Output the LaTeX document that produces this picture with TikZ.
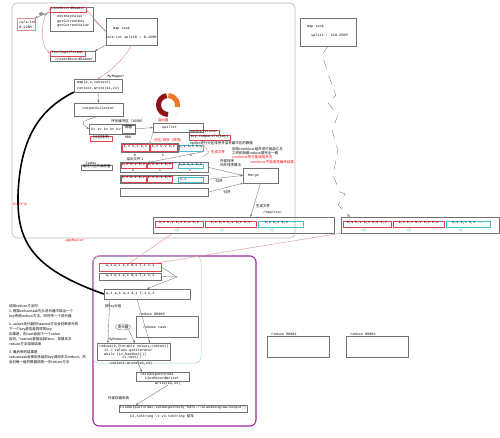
\documentclass[tikz,border=0pt]{standalone}
\usepackage{fontspec}
\setmainfont{Liberation Mono}
\newfontfamily\cjk{Noto Sans CJK SC}
\usetikzlibrary{fit,arrows.meta,shapes.geometric,calc}
\definecolor{ringred}{RGB}{140,20,20}
\definecolor{ringor}{RGB}{240,120,40}
\definecolor{boxred}{RGB}{220,70,80}
\definecolor{boxcyan}{RGB}{70,190,210}
\definecolor{mag}{RGB}{160,40,160}
\definecolor{grn}{RGB}{160,215,180}
\definecolor{pinkl}{RGB}{225,140,150}
\definecolor{frame}{RGB}{195,180,185}
\newcommand\myt{\fontsize{3.5}{4}\selectfont}
\newcommand\myz{\cjk\fontsize{3.5}{4}\selectfont}
\begin{document}
\begin{tikzpicture}[x=1pt,y=-1pt,
 gb/.style={draw=black!55, line width=0.35pt, fit={#1}, inner sep=0pt, font=\myt},
 rb/.style={draw=boxred, line width=0.45pt, fit={#1}, inner sep=0pt, font=\myt},
 cb/.style={draw=boxcyan, line width=0.45pt, fit={#1}, inner sep=0pt, font=\myt},
 tx/.style={font=\myt, inner sep=0pt},
 zx/.style={font=\myz, inner sep=0pt},
 mln/.style={draw=black!55, line width=0.35pt},
 marr/.style={mln, -{Stealth[length=2.5pt,width=2pt]}},
 rln/.style={draw=pinkl, line width=0.4pt},
 rarr/.style={rln, -{Stealth[length=2.5pt,width=2pt]}},
 lab/.style={font=\cjk\fontsize{3}{3.5}\selectfont, inner sep=0pt, text=boxcyan},
]
\useasboundingbox (0,0) rectangle (500,438);
\fill[white] (0,0) rectangle (500,438);

% ---------- map side frame ----------
\node[fit={(12,3) (295,238)}, draw=frame, line width=0.6pt, rounded corners=5pt, inner sep=0pt] (mapside) {};

% ---------- input ----------
\node[rb={(17,18) (35,30)}, draw=pinkl] (atxt) {};
\node[tx, anchor=west] (atxt1) at (19,22) {/a/a.txt};
\node[tx, anchor=west] (atxt2) at (19,27) {0-128M};
\node[zx] (rdkv) at (43,14) {读k,v};
\node[gb={(50,7) (93,31)}] (lrr) {};
\node[rb={(50,7) (86,12)}] (lrrh) {LineRecordReader};
\node[tx, anchor=west] (lrr1) at (57,17) {nextKeyValue};
\node[tx, anchor=west] (lrr2) at (57,21.5) {getCurrentKey};
\node[tx, anchor=west] (lrr3) at (57,26) {getCurrentValue};
\node[gb={(50,51) (95,61)}] (tif) {};
\node[rb={(50,51) (85,56)}] (tifh) {TextInputFormat};
\node[tx, anchor=west] (tif1) at (55,59) {createRecordReader};
\node[gb={(106,18) (157,45)}] (maptask) {};
\node[tx, anchor=west] (mt1) at (113,29) {map task};
\node[tx] (mt2) at (131,38) {/a/a.txt split0 : 0-128M};

\node[gb={(74,79) (122,92)}] (mymapper) {};
\node[tx, anchor=west] (mm1) at (77,83) {map(k,v,context)};
\node[tx, anchor=west] (mm2) at (77,88.5) {context.write(k1,v1)};
\node[tx] (mmlab) at (116,76.5) {MyMapper};
\node[gb={(74,103) (123,116)}] (oc) {outputCollector};

\draw[marr] (lrrh.south west) -- (atxt.north east);
\draw[rarr] (maptask.west) -- (lrrh.east);
\draw[mln] (lrr.east) -- (maptask.west);
\draw[marr] (maptask.south west) -- (tif.north east);
\draw[rarr] (lrrh.west) .. controls (40,18) and (40,45) .. (tifh.west);
\draw[rarr] (maptask.south) .. controls (125,58) and (112,70) .. (mymapper.north);
\draw[marr] (mymapper.south) -- (oc.north);

% ---------- ring buffer ----------
\node[circle, minimum size=24pt, inner sep=0pt, draw=black!15, line width=0.2pt] (ring) at (168,105) {};
\draw[line width=5pt, draw=ringred] (ring.center) ++(90:9.5) arc[start angle=90, end angle=262, radius=9.5];
\draw[line width=5pt, draw=ringor] (ring.center) ++(272:9.5) arc[start angle=272, end angle=372, radius=9.5];
\node[zx] (rbuf) at (128,121) {环形缓冲区（100M）};
\node[gb={(89,124) (135,134)}] (kvbuf) {};
\node[tx, anchor=west] (kvt) at (91,129) {kv kv kv kv kv};
\node[gb={(122,125) (135,133)}, font=\myz] (thr) {阈值};
\node[tx] (p80) at (128,137) {80\%};
\node[rb={(90,136) (112,141)}, font=\myz] (fq) {(分区排序)};
\draw[marr] (oc.south) .. controls (80,122) .. (kvbuf.west);

\node[zx, text=red] (yichu) at (163,120) {溢出器};
\node[gb={(153,123) (203,132)}] (spiller) {};
\node[tx, anchor=west] (spt) at (162,127.5) {spiller};
\draw[marr] (kvbuf.east) -- (spiller.west);
\node[rb={(189,130.5) (219,135.5)}, font=\fontsize{3}{3.5}\selectfont] (hp) {HashPartitioner};
\node[rb={(189,135.5) (230,140.5)}] (kc) {key.compareTo(key)};
\node[zx, anchor=west] (spnote) at (190,143) {spiller进行分区排序并溢写缓冲区的数据};
\node[zx, text=red, anchor=west] (pq) at (154,140) {分区/排序（快排）};

% ---------- spill files ----------
\node[gb={(121,143.5) (178,152.5)}] (r1) {};
\node[rb={(122,144.5) (149,151.5)}] (r1a) {k,v k,v k,v};
\node[rb={(150,144.5) (177,151.5)}] (r1b) {k,v k,v k,v};
\node[cb={(179,145) (203,151.5)}] (r1c) {k,v k,v k,v};
\node[tx] (r1l0) at (135,155.5) {0};
\node[tx] (r1l1) at (163,155.5) {1};
\node[tx] (r1l2) at (191,155.5) {2};
\draw[rarr] (spiller.south west) -- (r1b.north west);
\draw[rln] (r1c.north east) -- (209,152) -- (203,157);
\node[zx, text=red, anchor=west] (gen1) at (211,152) {生成文件};
\draw[marr] (r1c.south east) -- (148,162.5);
\node[zx] (yc1) at (135,159.5) {溢出文件 1};

\node[tx] (idxl) at (91,163) {Index};
\node[gb={(81,165) (112,170)}, font=\myz] (idx) {描述分区的偏移量};

\node[gb={(120,162.5) (208,172)}] (r2) {};
\node[rb={(121,163.5) (146,168.5)}] (r2a) {k,v k,v k,v};
\node[rb={(147,163.5) (172,168.5)}] (r2b) {k,v k,v k,v};
\node[cb={(178,164) (203,168.5)}] (r2c) {k,v k,v k,v};
\node[tx, font=\fontsize{3}{3}\selectfont] (r2l0) at (133,170.4) {0};
\node[tx, font=\fontsize{3}{3}\selectfont] (r2l1) at (160,170.4) {1};
\node[tx, font=\fontsize{3}{3}\selectfont] (r2l2) at (190,170.4) {2};

\node[gb={(120,175) (208,183.5)}] (r3) {};
\node[rb={(121,176) (146,182.5)}] (r3a) {k,v k,v k,v};
\node[rb={(147,176) (172,182.5)}] (r3b) {k,v k,v k,v};
\node[cb={(178,177) (203,182.5)}] (r3c) {};
\node[tx, anchor=west] (r3ct) at (180,179.75) {k,v};

\node[gb={(120,188) (208,196.5)}] (r4) {};

\node[gb={(243,168) (278,183)}] (merge) {};
\node[tx, anchor=west] (mergt) at (248,175.5) {Merge};
\draw[marr] (r2.east) -- (merge.west);
\draw[marr] (r3.east) -- (merge.west);
\draw[marr] (r4.east) -- (merge.south west);
\node[zx] (gb1) at (219,181.5) {归并};
\node[zx] (gb2) at (227,192.5) {归并};
\node[zx, anchor=west] (ext1) at (220,161) {外部排序};
\node[zx, anchor=west] (ext2) at (220,165.5) {归并排序算法};

\node[zx, anchor=west] (comb1) at (232,149) {调用combiner组件进行局部汇总};
\node[zx, anchor=west] (comb2) at (232,153.5) {工作机制跟reduce端完全一致};
\node[zx, anchor=west, text=red] (comb3) at (232,157.5) {combiner有可能调用多次};
\node[zx, anchor=west, text=red] (comb4) at (250,162) {combiner不能改变最终结果};

% ---------- map output ----------
\node[gb={(153,217) (334,233)}] (out) {};
\node[rb={(155,221) (203,227.5)}] (o1) {k,v k,v k,v k,v k,v};
\node[rb={(205,221) (256,227.5)}] (o2) {k,v k,v k,v k,v k,v};
\node[cb={(258,221) (303,227.5)}] (o3) {k,v k,v k,v ...};
\node[lab] (ol0) at (177,230.8) {0区};
\node[lab] (ol1) at (222,230.8) {1区};
\node[lab] (ol2) at (272,230.8) {2区};
\draw[marr] (merge.south) -- ($(out.north)+(7,0)$);
\node[zx, anchor=west] (gen2) at (256,206) {生成文件};
\node[tx, anchor=west] (tmp) at (263,213) {/tmp/xxx/};

\node[gb={(300,18) (356,46)}] (maptask2) {};
\node[tx, anchor=west] (mt21) at (307,27) {map task};
\node[tx, anchor=west] (mt22) at (311,36) {split1 : 128-256M};

\node[gb={(341,217) (499.5,233)}] (rout) {};
\node[rb={(343,221) (391,227.5)}] (ro1) {k,v k,v k,v k,v k,v};
\node[rb={(393,221) (444,227.5)}] (ro2) {k,v k,v k,v k,v k,v};
\node[cb={(446,221) (490,227.5)}] (ro3) {k,v k,v k,v ...};
\node[lab] (rol0) at (364,230.8) {0区};
\node[lab] (rol1) at (409,230.8) {1区};
\node[lab] (rol2) at (461,230.8) {2区};

\draw[mln, dash pattern=on 9pt off 7pt, -{Stealth[length=2.5pt,width=2pt]}] (maptask2.south) -- (322,55) -- (332,85) -- (336,95) -- (328,103) -- (338,115) -- (332,130) -- (338,150) -- (333,175) -- (340,192) -- (345,194) -- (338,205) -- ($(rout.north west)+(9,0)$);

% ---------- reduce side ----------
\node[fit={(93,256) (256,426)}, draw=mag, line width=1.1pt, rounded corners=6pt, inner sep=0pt] (redside) {};
\node[fit={(93,256) (201,363)}, draw=grn, line width=0.5pt, rounded corners=5pt, inner sep=0pt] (grp) {};

\node[rb={(99,263) (161,271)}] (rr1) {a,1 a,1 a,1 d,1 f,1 v,1};
\node[gb={(99,273) (161,280)}] (rr2) {a,1 a,1 a,1 d,1 f,1 v,1};
\coordinate (mg) at (177,277);
\draw[mln] (rr1.east) -- (mg);
\draw[mln] (rr2.east) -- (mg);
\node[gb={(104,289) (190,299)}] (rr3) {};
\node[tx, anchor=west] (rr3t) at (106,294) {a,1 a,1 a,1 d,1 f,1 v,1};
\draw[marr] (mg) -- (rr3.north);

\draw[rln] ($(out.south west)+(20,0)$) -- (rr1.north);
\draw[rln] (rout.south west) -- ($(rr1.north east)+(-3,0)$);

\draw[line width=1.6pt, black] (mymapper.south west) .. controls (38,110) and (20,140) .. (18,195) .. controls (17,240) and (30,268) .. (rr3.west);
\node[tx, text=red] (shuf) at (20,204) {shuffle};
\node[tx, text=red] (appm) at (75,240.5) {appMaster};

\node[zx, anchor=west] (grpk) at (105,306) {按key分组};
\node[tx] (r0l) at (152,314) {reduce 00000};
\node[gb={(136,316) (198,337)}] (rtask) {};
\node[tx] (rtt) at (155,327) {reduce task};
\node[ellipse, draw=black!55, line width=0.35pt, minimum width=15pt, minimum height=6pt, inner sep=0pt, font=\myz] (itr) at (123,327) {迭代器};
\node[tx] (myrl) at (118,340) {MyReducer};
\node[gb={(97,343) (170,360)}] (rcode) {};
\node[tx, anchor=west] (rc1) at (99,346.5) {reduce(k,Iterable values,context)};
\node[tx, anchor=west] (rc2) at (104,350.5) {it = values.getIterator};
\node[tx, anchor=west] (rc3) at (104,354.5) {while (it.hasNext())};
\node[tx, anchor=west] (rc4) at (122,358) {it.next()};
\node[tx, anchor=west] (rc5) at (110,363.5) {context.write(k3,v3)};

\draw[marr] ($(rr3.south west)+(6,0)$) -- ($(rcode.north west)+(11,0)$);
\draw[marr] ($(rr3.south)+(-10,0)$) -- ($(rcode.north west)+(53,0)$);
\draw[marr] (itr.south east) -- ($(rcode.north west)+(38,0)$);

\node[gb={(136,372) (189,381)}] (tof) {};
\node[tx, anchor=west] (tof1) at (140,374.5) {TextOutputFormat};
\node[tx, anchor=west] (tof2) at (145,378.5) {LineRecordWriter};
\node[tx, anchor=west] (wr) at (155,383.5) {write(k3,v3)};
\draw[marr] ($(rcode.south west)+(40,0)$) -- ($(tof.north west)+(6,0)$);

\node[zx, anchor=west] (ext) at (108,398) {外部存储系统};
\node[gb={(119,405) (247,412)}] (outp) {FileOutputFormat.setOutputPath("hdfs://alandsong/aa/output")};
\draw[marr] (wr.south) -- ($(outp.north west)+(17,0)$);
\node[tx, anchor=west] (kstr) at (130,416.5) {k3.toString \textbackslash t v3.toString {\cjk 回车}};

\node[tx] (red1l) at (284,334) {reduce 00001};
\node[gb={(267,336) (329,357)}] (red1) {};
\node[tx] (red2l) at (363,334) {reduce 00002};
\node[gb={(346,336) (408,357)}] (red2) {};

% ---------- notes ----------
\node[anchor=north west, align=left, inner sep=0pt, font=\cjk\fontsize{3.5}{5}\selectfont] (notes) at (9,304) {调用reduce方法时：\\
1. 框架reducetask先从迭代器中取出一个\\
key传给reduce方法，同时传一个迭代器\\[3pt]
2. values迭代器的hasnext方法会判断迭代的\\
下一个key是否是同样的key\\
如果是，则next返回下一个value\\
否则，hasnext直接返回false，导致本次\\
reduce方法调用结束\\[3pt]
3. 最后来的结果是\\
reducetask会拿到多组的key调用多次reduce，然\\
后对每一组的数据调用一次reduce方法};
\end{tikzpicture}
\end{document}
